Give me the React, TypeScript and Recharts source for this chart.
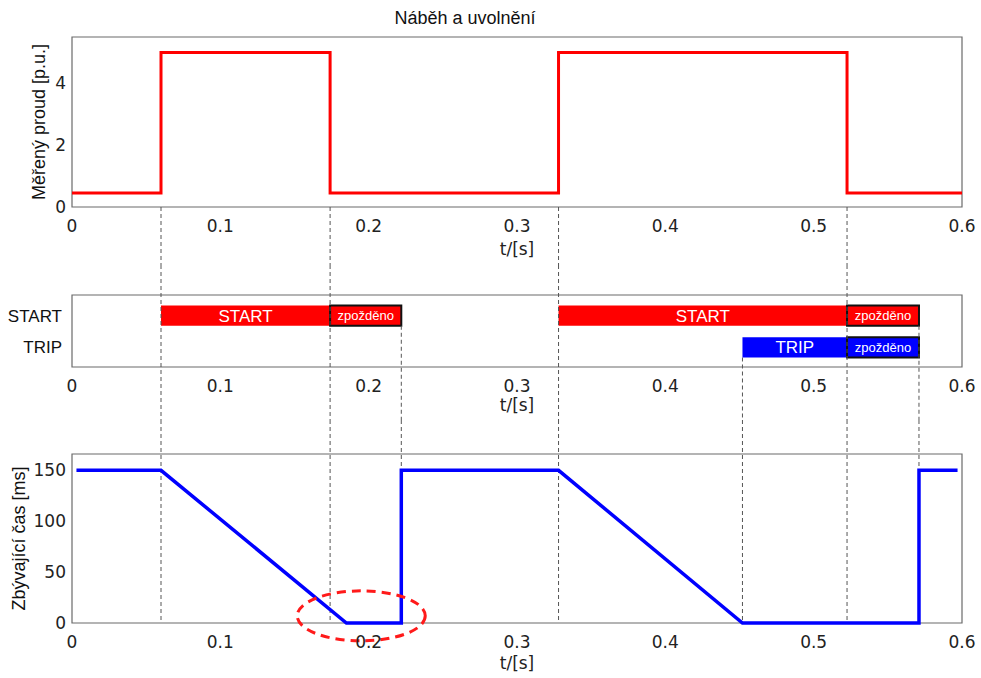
import React from "react";
import {
  ComposedChart,
  Line,
  XAxis,
  YAxis,
  ReferenceLine,
  ReferenceArea,
  ReferenceDot,
} from "recharts";

// time axis (s)
const xTicks = [0, 0.1, 0.2, 0.3, 0.4, 0.5, 0.6];
const xDomain = [0, 0.6];

// measured current [p.u.]
const currentT = [0, 0.06, 0.06, 0.174, 0.174, 0.328, 0.328, 0.5225, 0.5225, 0.6];
const currentVal = [0.45, 0.45, 5, 5, 0.45, 0.45, 5, 5, 0.45, 0.45];
const currentTicks = [0, 2, 4];
const currentDomain = [0, 5.5];

// remaining time [ms]
const timerT = [0.003, 0.06, 0.185, 0.222, 0.222, 0.328, 0.452, 0.571, 0.571, 0.597];
const timerVal = [150, 150, 0, 0, 150, 150, 0, 0, 150, 150];
const timerTicks = [0, 50, 100, 150];
const timerDomain = [0, 166];

// START / TRIP states
const rowNames = ["TRIP", "START"];
const rowDomain = [0.38, 2.65];
const barRow = ["START", "START", "START", "START", "TRIP", "TRIP"];
const barFrom = [0.06, 0.174, 0.328, 0.5225, 0.452, 0.5225];
const barTo = [0.174, 0.222, 0.5225, 0.571, 0.5225, 0.571];
const barText = ["START", "zpožděno", "START", "zpožděno", "TRIP", "zpožděno"];
const barDelayed = [false, true, false, true, false, true];

// dashed guide lines
const guideFull = [0.06, 0.174, 0.328, 0.5225];
const guideDelayEnd = [0.222, 0.571];
const guideTrip = [0.452];

const currentData = currentT.map((t, i) => ({ t, v: currentVal[i] }));
const timerData = timerT.map((t, i) => ({ t, v: timerVal[i] }));

const BAR_HALF = 0.32;
const rowValue = (name: string) => rowNames.indexOf(name) + 1;

const tickStyle = { fontFamily: "DejaVu Sans", fontSize: 17, fill: "#222" };
const boxColor = "#6a6a6a";

function YTitle(props: any) {
  const { viewBox, value, dx } = props;
  const cx = viewBox.x + dx;
  const cy = viewBox.y + viewBox.height / 2;
  return (
    <text
      x={cx}
      y={cy}
      transform={`rotate(-90 ${cx} ${cy})`}
      textAnchor="middle"
      dominantBaseline="central"
      fontFamily="Liberation Sans, Arial"
      fontSize={18}
      fill="#111"
    >
      {value}
    </text>
  );
}

function XTitle(props: any) {
  const { viewBox, dy } = props;
  return (
    <text
      x={viewBox.x + viewBox.width / 2}
      y={viewBox.y + dy}
      textAnchor="middle"
      fontFamily="DejaVu Sans"
      fontSize={17}
      fill="#222"
    >
      t/[s]
    </text>
  );
}

// dashed guide: extTop / extBottom stretch it past the plot box,
// belowOnly starts it at the plot bottom
const dashShape = (extTop: number, extBottom: number, belowOnly = false) => (p: any) => {
  const bottom = Math.max(p.y1, p.y2);
  const top = belowOnly ? bottom : Math.min(p.y1, p.y2) - extTop;
  return (
    <line
      x1={p.x1}
      x2={p.x1}
      y1={top}
      y2={bottom + extBottom}
      stroke="#555"
      strokeWidth={1}
      strokeDasharray="4 3"
    />
  );
};

const ellipseShape = (p: any) => (
  <ellipse
    cx={p.cx}
    cy={p.cy}
    rx={64}
    ry={25}
    fill="none"
    stroke="#ff1a1a"
    strokeWidth={3}
    strokeDasharray="9 6"
  />
);

const xAxisProps = {
  dataKey: "t",
  type: "number" as const,
  domain: xDomain,
  ticks: xTicks,
  allowDataOverflow: true,
  tick: tickStyle,
  tickLine: false,
  axisLine: false,
  tickSize: 0,
  tickMargin: 13,
  tickFormatter: (v: number) => String(v),
};

const PlotBox = (yDomain: number[]) => (
  <ReferenceArea
    x1={xDomain[0]}
    x2={xDomain[1]}
    y1={yDomain[0]}
    y2={yDomain[1]}
    fill="none"
    stroke={boxColor}
    strokeWidth={1.2}
  />
);

export default function App() {
  return (
    <div
      style={{
        position: "absolute",
        left: 0,
        top: 0,
        width: 981,
        height: 678,
        background: "#fff",
        overflow: "hidden",
      }}
    >
      <div
        style={{
          position: "absolute",
          left: 0,
          top: 8,
          width: 930,
          textAlign: "center",
          fontFamily: "Liberation Sans, Arial",
          fontSize: 18,
          color: "#111",
          zIndex: 2,
        }}
      >
        Náběh a uvolnění
      </div>

      {/* measured current */}
      <ComposedChart
        width={981}
        height={265}
        data={currentData}
        margin={{ top: 37, right: 19, bottom: 0, left: 0 }}
      >
        <XAxis {...xAxisProps} height={58} label={<XTitle dy={48} />} />
        <YAxis
          type="number"
          domain={currentDomain}
          ticks={currentTicks}
          width={72}
          tick={tickStyle}
          tickLine={false}
          axisLine={false}
          tickSize={0}
          tickMargin={6}
          label={<YTitle value="Měřený proud [p.u.]" dx={39} />}
        />
        {PlotBox(currentDomain)}
        {guideFull.map((t) => (
          <ReferenceLine key={t} x={t} shape={dashShape(0, 58, true)} />
        ))}
        <Line
          dataKey="v"
          type="linear"
          stroke="#ff0000"
          strokeWidth={3}
          dot={false}
          isAnimationActive={false}
        />
      </ComposedChart>

      {/* START / TRIP */}
      <ComposedChart
        width={981}
        height={155}
        data={currentData}
        margin={{ top: 30, right: 19, bottom: 0, left: 0 }}
      >
        <XAxis {...xAxisProps} height={53} label={<XTitle dy={44} />} />
        <YAxis
          type="number"
          domain={rowDomain}
          ticks={[1, 2]}
          allowDataOverflow
          width={72}
          tick={{ fontFamily: "Liberation Sans, Arial", fontSize: 17, fill: "#111" }}
          tickLine={false}
          axisLine={false}
          tickSize={0}
          tickMargin={10}
          tickFormatter={(v: number) => rowNames[v - 1]}
        />
        {PlotBox(rowDomain)}
        {guideFull.map((t) => (
          <ReferenceLine key={t} x={t} shape={dashShape(30, 53)} />
        ))}
        {guideDelayEnd.map((t) => (
          <ReferenceLine
            key={t}
            segment={[
              { x: t, y: rowValue("START") - BAR_HALF },
              { x: t, y: rowDomain[0] },
            ]}
            shape={dashShape(0, 53)}
          />
        ))}
        {guideTrip.map((t) => (
          <ReferenceLine
            key={t}
            segment={[
              { x: t, y: rowValue("TRIP") - BAR_HALF },
              { x: t, y: rowDomain[0] },
            ]}
            shape={dashShape(0, 53)}
          />
        ))}
        {barFrom.map((from, i) => {
          const y = rowValue(barRow[i]);
          const color = barRow[i] === "START" ? "#ff0000" : "#0000ff";
          return (
            <ReferenceArea
              key={i}
              x1={from}
              x2={barTo[i]}
              y1={y - BAR_HALF}
              y2={y + BAR_HALF}
              fill={color}
              fillOpacity={1}
              stroke={barDelayed[i] ? "#111" : "none"}
              strokeWidth={barDelayed[i] ? 2 : 0}
              label={{
                value: barText[i],
                position: "center",
                fill: "#fff",
                fontFamily: "Liberation Sans, Arial",
                fontSize: barDelayed[i] ? 13 : 17,
              }}
            />
          );
        })}
      </ComposedChart>

      {/* remaining time */}
      <ComposedChart
        width={981}
        height={258}
        data={timerData}
        margin={{ top: 34, right: 19, bottom: 0, left: 0 }}
      >
        <XAxis {...xAxisProps} height={55} label={<XTitle dy={46} />} />
        <YAxis
          type="number"
          domain={timerDomain}
          ticks={timerTicks}
          width={72}
          tick={tickStyle}
          tickLine={false}
          axisLine={false}
          tickSize={0}
          tickMargin={6}
          label={<YTitle value="Zbývající čas [ms]" dx={19} />}
        />
        {PlotBox(timerDomain)}
        {[...guideFull, ...guideDelayEnd, ...guideTrip].map((t) => (
          <ReferenceLine key={t} x={t} shape={dashShape(34, 0)} />
        ))}
        <Line
          dataKey="v"
          type="linear"
          stroke="#0000ff"
          strokeWidth={3.5}
          dot={false}
          isAnimationActive={false}
        />
        <ReferenceDot x={0.195} y={7} shape={ellipseShape} />
      </ComposedChart>
    </div>
  );
}
